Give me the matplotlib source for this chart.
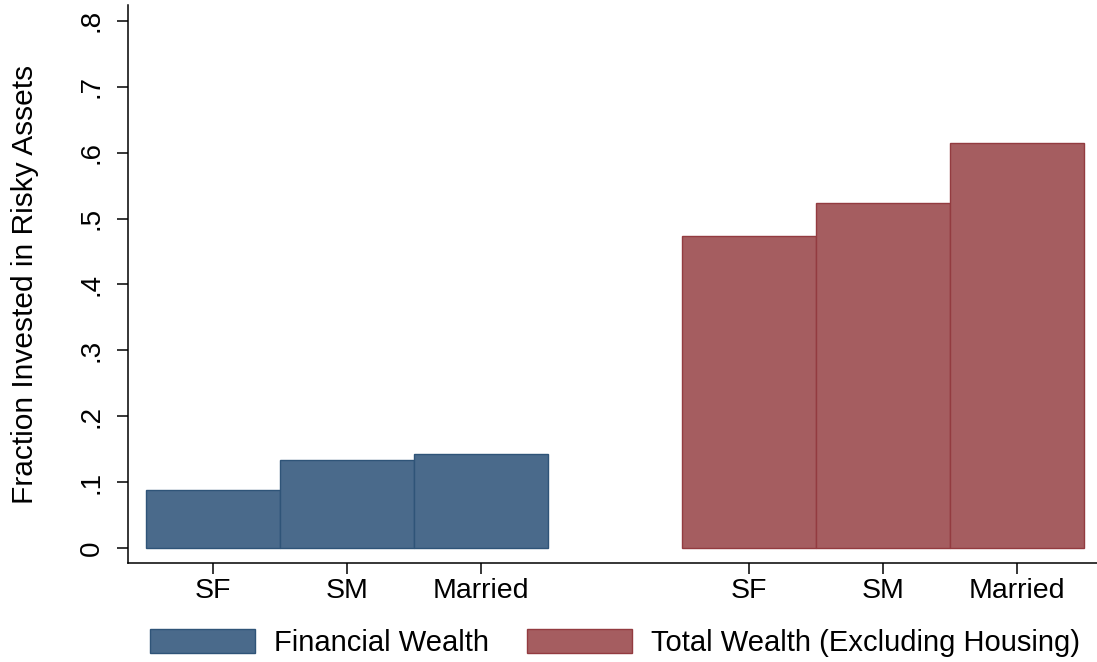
import matplotlib.pyplot as plt
import numpy as np

plt.rcParams['font.family'] = ['Liberation Sans', 'DejaVu Sans']

groups = ['SF', 'SM', 'Married']
financial = [0.088, 0.1335, 0.1425]
total = [0.4735, 0.5235, 0.6145]
yticks = [0, 0.1, 0.2, 0.3, 0.4, 0.5, 0.6, 0.7, 0.8]
ytick_labels = ['0', '.1', '.2', '.3', '.4', '.5', '.6', '.7', '.8']

blue_fill, blue_edge = '#4a6a8b', '#2f5478'
red_fill, red_edge = '#a55d60', '#933b40'


def main():
    fig = plt.figure(figsize=(10.97, 6.62), dpi=100)
    ax = fig.add_axes([128 / 1097, 99 / 662, 969 / 1097, 558 / 662])

    x_fin = np.arange(len(groups))
    x_tot = x_fin + 4
    ax.bar(x_fin, financial, width=1.0, color=blue_fill, edgecolor=blue_edge,
           linewidth=1.0, label='Financial Wealth')
    ax.bar(x_tot, total, width=1.0, color=red_fill, edgecolor=red_edge,
           linewidth=1.0, label='Total Wealth (Excluding Housing)')

    ax.set_xlim(-0.634, -0.634 + 969 / 134)
    ax.set_ylim(-15 / 659, 543 / 659)

    ax.set_xticks(np.concatenate([x_fin, x_tot]))
    ax.set_xticklabels(groups + groups, fontsize=20.5)
    ax.set_yticks(yticks)
    ax.set_yticklabels(ytick_labels, fontsize=20, rotation=90, va='center')
    ax.tick_params(axis='y', length=8, width=1.1, pad=9)
    ax.tick_params(axis='x', length=8, width=1.1, pad=3)

    ax.set_ylabel('Fraction Invested in Risky Assets', fontsize=21.5, labelpad=28)

    for side in ['top', 'right']:
        ax.spines[side].set_visible(False)
    for side in ['left', 'bottom']:
        ax.spines[side].set_linewidth(1.1)

    fig.legend(loc='center', bbox_to_anchor=(615 / 1097, 1 - 643 / 662), ncol=2,
               frameon=False, fontsize=21, handlelength=3.6, handleheight=0.92,
               handletextpad=0.65, columnspacing=1.3, borderpad=0)

    fig.savefig('out.png', dpi=100)


if __name__ == '__main__':
    main()
